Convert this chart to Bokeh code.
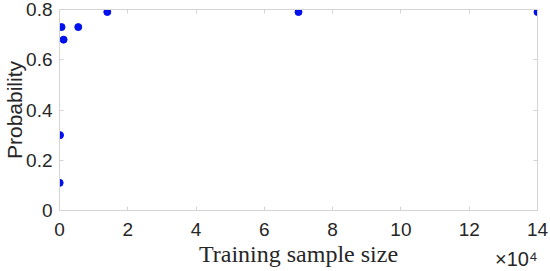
from bokeh.plotting import figure
from bokeh.models import Range1d, FixedTicker, LinearAxis, Title
from bokeh.embed import file_html
from bokeh.resources import INLINE

# data
train_size = [50, 150, 600, 1200, 5500, 14000, 70000, 140000]
probability = [0.11, 0.30, 0.73, 0.68, 0.73, 0.79, 0.79, 0.79]

x_ticks = [0, 20000, 40000, 60000, 80000, 100000, 120000, 140000]
x_tick_labels = ["0", "2", "4", "6", "8", "10", "12", "14"]
y_ticks = [0, 0.2, 0.4, 0.6, 0.8]
y_tick_labels = ["0", "0.2", "0.4", "0.6", "0.8"]

AX = "#d4d4d4"
TXT = "#262626"
SANS = "Liberation Sans"

p = figure(width=550, height=271, output_backend="svg", toolbar_location=None,
           x_range=Range1d(0, 140000), y_range=Range1d(0, 0.8),
           min_border_left=59, min_border_right=13, min_border_top=9, min_border_bottom=61)
p.grid.visible = False
p.outline_line_color = None
p.background_fill_color = "white"
p.border_fill_color = "white"

p.scatter(train_size, probability, size=7, color="#0010ee")

def style(ax):
    ax.axis_line_color = AX
    ax.major_tick_line_color = AX
    ax.major_tick_in = 4
    ax.major_tick_out = 0
    ax.minor_tick_line_color = None

xa = p.xaxis[0]
xa.ticker = FixedTicker(ticks=x_ticks)
xa.major_label_overrides = dict(zip(x_ticks, x_tick_labels))
style(xa)
xa.major_label_text_font = SANS
xa.major_label_text_font_size = "19px"
xa.major_label_text_color = TXT
xa.major_label_standoff = 12
xa.axis_label = "Training sample size"
xa.axis_label_text_font = "Liberation Serif"
xa.axis_label_text_font_style = "normal"
xa.axis_label_text_font_size = "24px"
xa.axis_label_text_color = TXT
xa.axis_label_standoff = 2

ya = p.yaxis[0]
ya.ticker = FixedTicker(ticks=y_ticks)
ya.major_label_overrides = dict(zip(y_ticks, y_tick_labels))
style(ya)
ya.major_label_text_font = SANS
ya.major_label_text_font_size = "19px"
ya.major_label_text_color = TXT
ya.major_label_standoff = 7
ya.axis_label = "Probability"
ya.axis_label_text_font = SANS
ya.axis_label_text_font_style = "normal"
ya.axis_label_text_font_size = "21px"
ya.axis_label_text_color = TXT
ya.axis_label_standoff = -3

top = LinearAxis(ticker=FixedTicker(ticks=x_ticks), major_label_text_font_size="0px",
                 major_label_text_color=None, major_label_standoff=0)
style(top)
p.add_layout(top, "above")
right = LinearAxis(ticker=FixedTicker(ticks=y_ticks), major_label_text_font_size="0px",
                   major_label_text_color=None, major_label_standoff=0)
style(right)
p.add_layout(right, "right")

p.add_layout(Title(text="×10⁴", align="right", vertical_align="top", offset=0, standoff=-44,
                   text_font=SANS, text_font_size="20px", text_font_style="normal",
                   text_color=TXT), "below")

open("out.html", "w").write(file_html(p, INLINE))
